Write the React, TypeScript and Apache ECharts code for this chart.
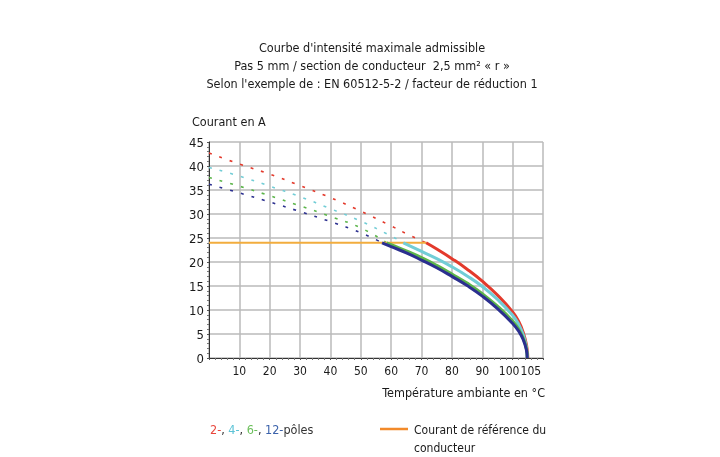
import React, { useEffect, useRef } from "react";
import * as echarts from "echarts";

const titleLines = [
  "Courbe d'intensité maximale admissible",
  "Pas 5 mm / section de conducteur  2,5 mm² « r »",
  "Selon l'exemple de : EN 60512-5-2 / facteur de réduction 1",
];
const yAxisName = "Courant en A";
const xAxisName = "Température ambiante en °C";
const referenceLabel = ["Courant de référence du", "conducteur"];

const referenceCurrent = 24;
const referenceEnd = 71.5;

// dotted (theoretical) portions
const red2Dotted = [[0, 42.7], [10, 40.4], [20, 38.3], [30, 35.9], [40, 33.4], [50, 30.6], [60, 27.5], [66, 25.6], [71.5, 24]];
const cyan4Dotted = [[0, 39.7], [10, 37.9], [20, 35.8], [30, 33.6], [40, 31.1], [50, 28.5], [60, 25.4], [64, 24]];
const green6Dotted = [[0, 37.6], [10, 35.8], [20, 33.8], [30, 31.7], [40, 29.5], [50, 27.1], [58.5, 24]];
const blue12Dotted = [[0, 36.2], [10, 34.4], [20, 32.5], [30, 30.5], [40, 28.4], [50, 26.1], [57, 24]];

// solid (derated) portions
const red2Solid = [[71.5, 24], [75, 22.7], [80, 20.7], [85, 18.5], [90, 16.0], [95, 13.1], [100, 9.6], [102, 7.6], [103.5, 5.3], [104.6, 2.6], [105, 0]];
const cyan4Solid = [[64, 24], [70, 22.2], [75, 20.7], [80, 19.0], [85, 17.1], [90, 14.9], [95, 12.2], [100, 8.9], [102, 7.0], [103.5, 4.8], [104.5, 2.4], [104.9, 0]];
const green6Solid = [[58.5, 24], [60, 23.6], [65, 22.3], [70, 20.9], [75, 19.3], [80, 17.5], [85, 15.6], [90, 13.4], [95, 10.8], [100, 7.7], [102, 6.0], [103.5, 4.1], [104.5, 2], [104.8, 0]];
const blue12Solid = [[57, 24], [60, 23.2], [65, 21.9], [70, 20.4], [75, 18.8], [80, 17.0], [85, 15.1], [90, 12.9], [95, 10.3], [100, 7.2], [102, 5.6], [103.5, 3.8], [104.5, 1.8], [104.8, 0]];

const referenceLine = [[0, referenceCurrent], [referenceEnd, referenceCurrent]];

const xMin = 0;
const xMax = 110;
const xInterval = 10;
const yMin = 0;
const yMax = 45;
const yInterval = 5;
const extraXLabel = 105;

const colors = {
  red: "#e33a2c",
  cyan: "#72cdd6",
  green: "#5cb54a",
  blue: "#2b2f8f",
  orange: "#f2ad3e",
  legendOrange: "#f28a2a",
};

const FONT = "'DejaVu Sans Condensed', 'Liberation Sans Narrow', sans-serif";
const FS = 12;

export default function App() {
  const ref = useRef<HTMLDivElement>(null);
  useEffect(() => {
    if (!ref.current) return;
    const chart = echarts.init(ref.current, undefined, { renderer: "svg" });
    const dotted = (data: number[][], color: string) => ({
      type: "line",
      data,
      smooth: true,
      symbol: "none",
      lineStyle: { color, width: 1.6, type: [3, 8] },
      z: 2,
    });
    const solid = (data: number[][], color: string) => ({
      type: "line",
      data,
      smooth: true,
      symbol: "none",
      lineStyle: { color, width: 3 },
      z: 4,
    });
    chart.setOption({
      animation: false,
      textStyle: { fontFamily: FONT },
      grid: { left: 209, top: 142, right: 177, bottom: 99, containLabel: false },
      title: {
        text: titleLines.join("\n"),
        left: 367,
        textAlign: "center",
        top: 33,
        textStyle: {
          fontFamily: FONT,
          fontSize: 12.5,
          fontWeight: "normal",
          color: "#1a1a1a",
          lineHeight: 18,
        },
      },
      xAxis: [
        {
          type: "value",
          min: xMin,
          max: xMax,
          interval: xInterval,
          axisLine: { show: true, lineStyle: { color: "#333", width: 1 } },
          axisTick: { show: true, length: 2, lineStyle: { color: "#555" } },
          minorTick: { show: true, splitNumber: 5, length: 2, lineStyle: { color: "#777" } },
          splitLine: { show: true, lineStyle: { color: "#bababa", width: 1.5 } },
          axisLabel: {
            color: "#1a1a1a",
            fontSize: FS,
            fontFamily: FONT,
            margin: 7,
            showMinLabel: false,
            showMaxLabel: false,
            formatter: (v: number) =>
              v === xMin || v === xMax ? "" : v === 100 ? "{l|100}" : String(v),
            rich: { l: { fontSize: FS, fontFamily: FONT, color: "#1a1a1a", padding: [0, 7, 0, 0] } },
          },
        },
        {
          type: "value",
          min: xMin,
          max: xMax,
          interval: extraXLabel,
          position: "bottom",
          axisLine: { show: false },
          axisTick: { show: false },
          splitLine: { show: false },
          axisLabel: {
            color: "#1a1a1a",
            fontSize: FS,
            fontFamily: FONT,
            margin: 7,
            formatter: (v: number) => (v === extraXLabel ? "{r|" + v + "}" : ""),
            rich: { r: { fontSize: FS, fontFamily: FONT, color: "#1a1a1a", padding: [0, 0, 0, 6] } },
          },
        },
      ],
      yAxis: {
        type: "value",
        min: yMin,
        max: yMax,
        interval: yInterval,
        axisLine: { show: true, lineStyle: { color: "#333", width: 1 } },
        axisTick: { show: true, length: 2, lineStyle: { color: "#555" } },
        minorTick: { show: true, splitNumber: 5, length: 2, lineStyle: { color: "#777" } },
        splitLine: { show: true, lineStyle: { color: "#bababa", width: 1.5 } },
        axisLabel: { color: "#1a1a1a", fontSize: 13, fontFamily: FONT, margin: 5 },
      },
      series: [
        dotted(red2Dotted, colors.red),
        dotted(cyan4Dotted, colors.cyan),
        dotted(green6Dotted, colors.green),
        dotted(blue12Dotted, colors.blue),
        solid(red2Solid, colors.red),
        solid(cyan4Solid, colors.cyan),
        solid(green6Solid, colors.green),
        solid(blue12Solid, colors.blue),
        {
          type: "line",
          data: referenceLine,
          symbol: "none",
          lineStyle: { color: colors.orange, width: 2 },
          z: 3,
        },
      ],
      graphic: [
        {
          type: "text",
          left: 192,
          top: 115,
          style: { text: yAxisName, fontFamily: FONT, fontSize: 12.5, fill: "#1a1a1a" },
        },
        {
          type: "text",
          right: 175,
          top: 386,
          style: { text: xAxisName, fontFamily: FONT, fontSize: 12.5, fill: "#1a1a1a" },
        },
        {
          type: "text",
          left: 210,
          top: 423,
          style: {
            text: "{r|2-}{k|, }{c|4-}{k|, }{g|6-}{k|, }{b|12-}{k|pôles}",
            fontFamily: FONT,
            fontSize: 12.5,
            rich: {
              r: { fill: "#e8463c", fontFamily: FONT, fontSize: 12.5 },
              c: { fill: "#5cc3d6", fontFamily: FONT, fontSize: 12.5 },
              g: { fill: "#6cbf5c", fontFamily: FONT, fontSize: 12.5 },
              b: { fill: "#3b62ab", fontFamily: FONT, fontSize: 12.5 },
              k: { fill: "#333", fontFamily: FONT, fontSize: 12.5 },
            },
          },
        },
        {
          type: "line",
          shape: { x1: 380, y1: 429, x2: 408, y2: 429 },
          style: { stroke: colors.legendOrange, lineWidth: 2.5 },
        },
        {
          type: "text",
          left: 414,
          top: 421,
          style: {
            text: referenceLabel.join("\n"),
            fontFamily: FONT,
            fontSize: 12,
            lineHeight: 18,
            fill: "#1a1a1a",
          },
        },
      ],
    });
    return () => chart.dispose();
  }, []);
  return <div ref={ref} style={{ position: "fixed", left: 0, top: 0, width: 720, height: 457 }} />;
}
